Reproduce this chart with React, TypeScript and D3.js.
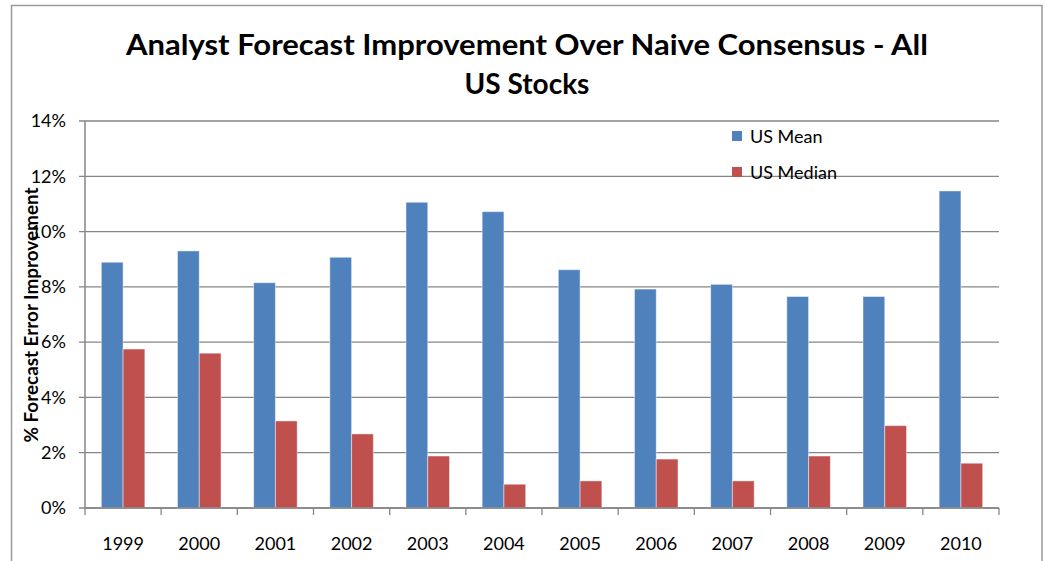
import React from "react";
import * as d3 from "d3";

const years = ["1999","2000","2001","2002","2003","2004","2005","2006","2007","2008","2009","2010"];
const usMean = [8.89, 9.30, 8.15, 9.07, 11.06, 10.72, 8.62, 7.92, 8.09, 7.65, 7.65, 11.47];
const usMedian = [5.75, 5.60, 3.15, 2.68, 1.88, 0.86, 0.98, 1.77, 0.98, 1.88, 2.98, 1.62];
const seriesNames = ["US Mean", "US Median"];
const seriesColors = ["#4F81BD", "#C0504D"];
const yTicks = [0, 2, 4, 6, 8, 10, 12, 14];

const W = 1045, H = 561;
const L = 85, R = 999, T = 121, B = 508;
const FONT = "Lato, 'Open Sans', sans-serif";
const GRID = "#868686";

export default function App() {
  const x0 = d3.scaleBand<string>().domain(years).range([L, R]).paddingInner(0).paddingOuter(0);
  const step = x0.step();
  const groupW = step * (2 / 3.5);
  const x1 = d3.scaleBand<string>().domain(seriesNames).range([0, groupW]).padding(0);
  const y = d3.scaleLinear().domain([0, 14]).range([B, T]);
  const data = [usMean, usMedian];

  return (
    <svg width={W} height={H} style={{ position: "absolute", left: 0, top: 0, background: "#fff" }}>
      <rect x={0} y={0} width={W} height={H} fill="#fff" />
      <rect x={11.5} y={5.5} width={1030.5} height={600} fill="#fff" stroke="#9a9a9a" strokeWidth={1.5} />
      <text x={527} y={55} textAnchor="middle" fontFamily={FONT} fontWeight="bold" fontSize={28} textLength={802} lengthAdjust="spacingAndGlyphs" fill="#000">
        Analyst Forecast Improvement Over Naive Consensus - All
      </text>
      <text x={527} y={94} textAnchor="middle" fontFamily={FONT} fontWeight="bold" fontSize={28} fill="#000">
        US Stocks
      </text>
      {/* gridlines */}
      {yTicks.map((t) => (
        <g key={t}>
          <line x1={L - 6} x2={R} y1={y(t)} y2={y(t)} stroke={GRID} strokeWidth={1.3} />
          <text x={66} y={y(t)} dy="0.35em" textAnchor="end" fontFamily={FONT} fontSize={18} fill="#000">
            {t}%
          </text>
        </g>
      ))}
      <line x1={L} x2={L} y1={T} y2={B} stroke={GRID} strokeWidth={1.5} />
      {/* x ticks */}
      {years.map((yr, i) => (
        <line key={"t" + yr} x1={L + i * step} x2={L + i * step} y1={B} y2={B + 7} stroke={GRID} strokeWidth={1.3} />
      ))}
      <line x1={R} x2={R} y1={B} y2={B + 7} stroke={GRID} strokeWidth={1.3} />
      {/* bars */}
      {years.map((yr, i) => (
        <g key={yr} transform={`translate(${(x0(yr) as number) + (step - groupW) / 2},0)`}>
          {seriesNames.map((s, k) => (
            <rect
              key={s}
              x={x1(s) as number}
              y={y(data[k][i])}
              width={x1.bandwidth()}
              height={B - y(data[k][i])}
              fill={seriesColors[k]}
              stroke="rgba(255,255,255,0.45)"
              strokeWidth={1}
            />
          ))}
          <text x={step / 2 - (step - groupW) / 2} y={550} textAnchor="middle" fontFamily={FONT} fontSize={18} fill="#000">
            {yr}
          </text>
        </g>
      ))}
      <line x1={L} x2={R} y1={B} y2={B} stroke={GRID} strokeWidth={1.5} />
      {/* legend */}
      {seriesNames.map((s, k) => (
        <g key={s} transform={`translate(732,${131 + k * 36})`}>
          <rect x={0} y={0} width={10} height={10} fill={seriesColors[k]} />
          <text x={18} y={12} fontFamily={FONT} fontSize={18} fill="#000">{s}</text>
        </g>
      ))}
      {/* y label */}
      <text transform={`translate(38,315) rotate(-90)`} textAnchor="middle" fontFamily={FONT} fontWeight="bold" fontSize={18} textLength={255} lengthAdjust="spacingAndGlyphs" fill="#000">
        % Forecast Error Improvement
      </text>
    </svg>
  );
}
